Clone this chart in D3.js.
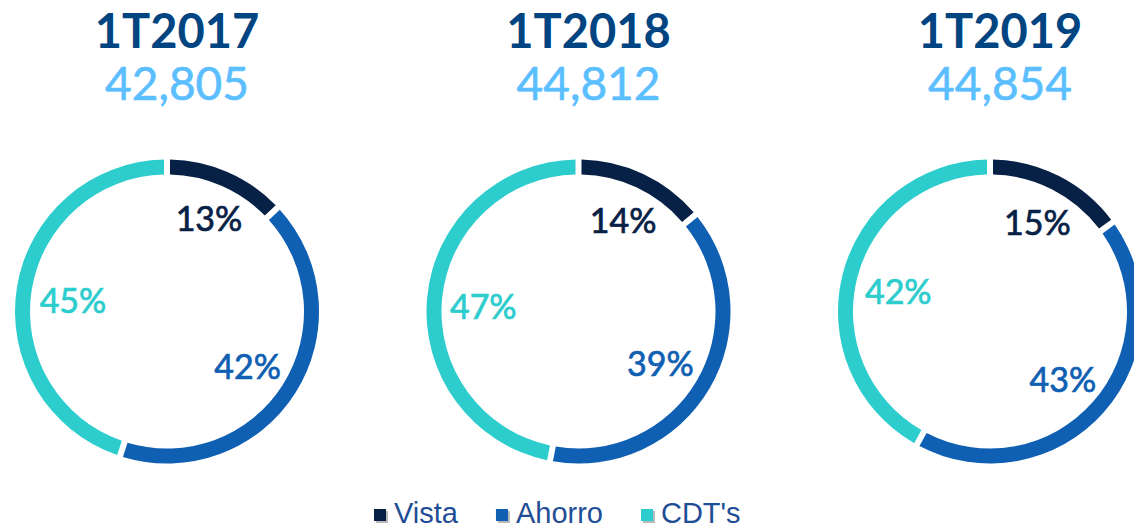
<!DOCTYPE html>
<html>
<head>
<meta charset="utf-8">
<script src="https://cdn.jsdelivr.net/npm/d3@7"></script>
<style>
  html, body { margin: 0; padding: 0; background: #fff; }
  #chart { width: 1134px; height: 531px; overflow: hidden; }
</style>
</head>
<body>
<div id="chart"></div>
<script>
// data
const periods = ["1T2017", "1T2018", "1T2019"];
const totals = ["42,805", "44,812", "44,854"];
const categories = ["Vista", "Ahorro", "CDT's"];
const vista = [13, 14, 15];
const ahorro = [42, 39, 43];
const cdts = [45, 47, 42];

const colors = { "Vista": "#072146", "Ahorro": "#0f5fb3", "CDT's": "#2dcccd" };

const w = 1134, h = 531;
const svg = d3.select("#chart").append("svg")
  .attr("width", w).attr("height", h);

// centres of the three rings
const x = d3.scalePoint().domain(periods).range([167, 990]);
const cy = 311.5;
const outerR = 152, innerR = 137;

const pie = d3.pie().sort(null).value(d => d.value);
const arc = d3.arc()
  .innerRadius(innerR).outerRadius(outerR)
  .padAngle(6 / outerR).padRadius(outerR);

const labelFont = "34px Lato";
const measure = (text, font) => {
  const ctx = measure.ctx || (measure.ctx = document.createElement("canvas").getContext("2d"));
  ctx.font = font;
  return ctx.measureText(text).width;
};

periods.forEach((p, i) => {
  const data = [
    { cat: "Vista", value: vista[i] },
    { cat: "Ahorro", value: ahorro[i] },
    { cat: "CDT's", value: cdts[i] }
  ];
  const g = svg.append("g").attr("transform", `translate(${x(p)},${cy})`);

  g.selectAll("path")
    .data(pie(data))
    .enter()
    .append("path")
    .attr("d", arc)
    .attr("fill", d => colors[d.data.cat]);

  // labels sit just inside the ring, along the slice middle
  g.selectAll("text")
    .data(pie(data))
    .enter()
    .append("text")
    .attr("transform", d => {
      const a = (d.startAngle + d.endAngle) / 2;
      const tw = measure(d.data.value + "%", labelFont);
      const ext = Math.abs(Math.sin(a)) * tw / 2 + Math.abs(Math.cos(a)) * 12;
      const r = innerR - 7 - ext;
      return `translate(${Math.sin(a) * r},${-Math.cos(a) * r + 4})`;
    })
    .attr("text-anchor", "middle")
    .attr("dy", "0.36em")
    .style("font", labelFont)
    .attr("fill", d => colors[d.data.cat])
    .attr("stroke", d => colors[d.data.cat])
    .attr("stroke-width", 0.7)
    .text(d => d.data.value + "%");

  // titles
  svg.append("text")
    .attr("x", x(p) + 10).attr("y", 48)
    .attr("text-anchor", "middle")
    .style("font", "bold 47px Lato")
    .attr("fill", "#004481")
    .text(p);

  svg.append("text")
    .attr("x", x(p) + 10).attr("y", 100)
    .attr("text-anchor", "middle")
    .style("font", "46px Lato")
    .attr("fill", "#5bbeff")
    .attr("stroke", "#5bbeff")
    .attr("stroke-width", 0.6)
    .text(totals[i]);
});

// legend
const legendFont = "29px 'Liberation Sans', Arial, sans-serif";
let lx = 374;
const legend = svg.append("g");
categories.forEach(c => {
  legend.append("rect")
    .attr("x", lx + 2).attr("y", 511)
    .attr("width", 12).attr("height", 12)
    .attr("fill", "#b8b8b8");
  legend.append("rect")
    .attr("x", lx).attr("y", 509)
    .attr("width", 12).attr("height", 12)
    .attr("fill", colors[c]);
  legend.append("text")
    .attr("x", lx + 20).attr("y", 523)
    .style("font", legendFont)
    .attr("fill", "#1f4e96")
    .text(c);
  lx += 20 + measure(c, legendFont) + 38;
});
</script>
</body>
</html>
